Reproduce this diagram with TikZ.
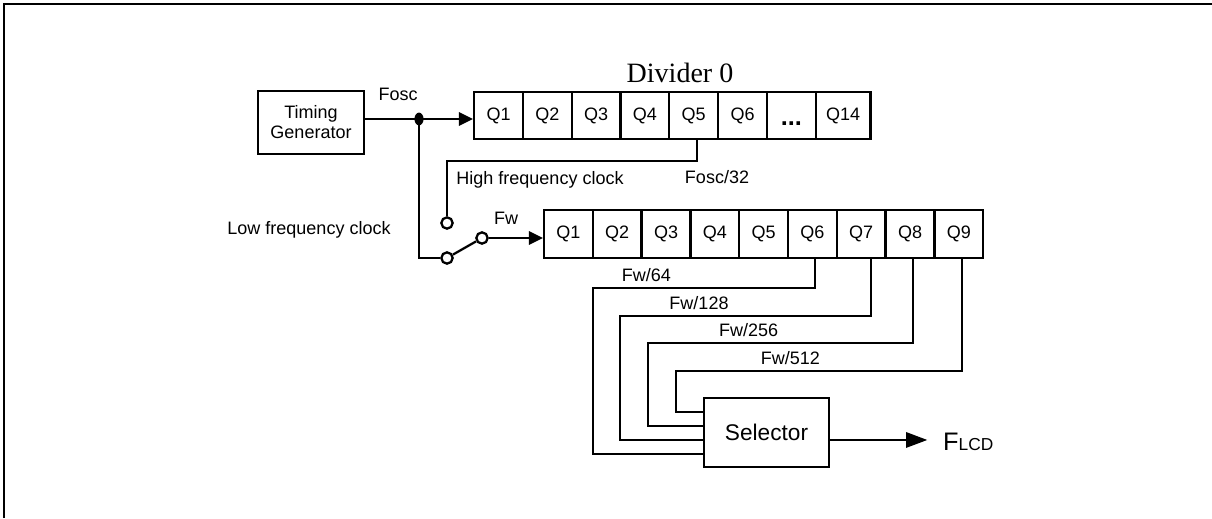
\documentclass[tikz,border=0pt]{standalone}
\usepackage{fontspec}
\setmainfont{Liberation Serif}
\setsansfont{Liberation Sans}
\usetikzlibrary{arrows.meta}
\tikzset{%
  >={Triangle[width=10pt,length=10.5pt]},
  % Specifications for style of nodes:
            base/.style = {rectangle, draw=black, line width=1.7pt,
                           text centered, font=\sffamily\fontsize{13.5}{15}\selectfont},
          genbox/.style = {base, minimum width=79.5pt, minimum height=47.25pt},
            cell/.style = {base, minimum width=36.6pt, minimum height=35.6pt},
          selbox/.style = {base, minimum width=93.75pt, minimum height=51.75pt,
                           font=\sffamily\fontsize{17}{17}\selectfont},
         contact/.style = {circle, draw=black, fill=white, line width=1.7pt,
                           minimum size=8.5pt, inner sep=0pt},
        siglabel/.style = {font=\sffamily\fontsize{13.5}{15}\selectfont, inner sep=1pt},
}

\begin{document}
\begin{tikzpicture}[x=0.75pt, y=-0.75pt, node distance=36.6pt,
    line width=1.7pt, align=center]
  \useasboundingbox (0,0) rectangle (1212,518);
  % frame
  \draw[line width=2.2pt] (4,518) -- (4,4) -- (1212,4);

  % Specification of nodes (position, etc.)
  \node (tg)        [genbox] at (311,122.5) {Timing\\Generator};
  \coordinate (fosc) at (419,119);

  \node (div0)      [font=\rmfamily\fontsize{21}{21}\selectfont] at (680,73) {Divider 0};
  \node (d0q1)      [cell] at (498.5,115.5) {Q1};
  \node (d0q2)      [cell, right of=d0q1] {Q2};
  \node (d0q3)      [cell, right of=d0q2] {Q3};
  \node (d0q4)      [cell, right of=d0q3] {Q4};
  \node (d0q5)      [cell, right of=d0q4] {Q5};
  \node (d0q6)      [cell, right of=d0q5] {Q6};
  \node (d0dots)    [cell, right of=d0q6, text height=15pt,
                     font=\sffamily\bfseries\fontsize{19}{19}\selectfont] {...};
  \node (d0q14)     [cell, right of=d0dots, xshift=2.2pt, minimum width=41pt] {Q14};

  \node (d1q1)      [cell] at (568.4,234) {Q1};
  \node (d1q2)      [cell, right of=d1q1] {Q2};
  \node (d1q3)      [cell, right of=d1q2] {Q3};
  \node (d1q4)      [cell, right of=d1q3] {Q4};
  \node (d1q5)      [cell, right of=d1q4] {Q5};
  \node (d1q6)      [cell, right of=d1q5] {Q6};
  \node (d1q7)      [cell, right of=d1q6] {Q7};
  \node (d1q8)      [cell, right of=d1q7] {Q8};
  \node (d1q9)      [cell, right of=d1q8] {Q9};

  \node (highc)     [contact] at (447,223) {};
  \node (lowc)      [contact] at (447,258) {};
  \node (swc)       [contact] at (482,238) {};

  \node (sel)       [selbox] at (766.5,432.5) {Selector};
  \node (flcd)      [anchor=base west, inner sep=0pt, font=\sffamily] at (942,450)
                    {{\fontsize{19}{19}\selectfont F}{\fontsize{13}{13}\selectfont LCD}};

  \node (fosclbl)   [siglabel] at (398,94) {Fosc};
  \node (fwlbl)     [siglabel] at (506,218) {Fw};
  \node (hflbl)     [siglabel, anchor=west] at (454,180) {High frequency clock};
  \node (lflbl)     [siglabel, anchor=west] at (225,230) {Low frequency clock};
  \node (f32lbl)    [siglabel] at (717,177) {Fosc/32};

  % connectors
  \draw             (tg.east |- fosc) -- (fosc);
  \draw[->]         (fosc) -- (fosc -| d0q1.west);
  \fill             (fosc) ellipse [x radius=3.4pt, y radius=4.8pt];
  \draw             (fosc) |- (lowc);
  \draw             (lowc) -- (swc);
  \draw[->]         (swc) -- (swc -| d1q1.west);
  \draw             (highc) -- ++(0,-62) -| ([xshift=2.3pt]d0q5.south);

  \draw             ([xshift=2pt]d1q6.south) -- ++(0,29) -- ++(-222,0)
                    node[siglabel, pos=0.76, above=3pt] {Fw/64} |- ([yshift=-16.1pt]sel.west);
  \draw             ([xshift=7.3pt]d1q7.south) -- ++(0,57) -- ++(-251,0)
                    node[siglabel, pos=0.685, above=3pt] {Fw/128} |- ([yshift=-5.6pt]sel.west);
  \draw             ([xshift=2.25pt]d1q8.south) -- ++(0,84) -- ++(-265,0)
                    node[siglabel, pos=0.62, above=3pt] {Fw/256} |- ([yshift=4.9pt]sel.west);
  \draw             ([xshift=2.4pt]d1q9.south) -- ++(0,112) -- ++(-286,0)
                    node[siglabel, pos=0.6, above=3pt] {Fw/512} |- ([yshift=15.4pt]sel.west);

  \draw[->, >={Triangle[width=11.5pt,length=16pt]}, shorten >=11pt]
                    ([yshift=-5.6pt]sel.east) -- ([yshift=-5.6pt]sel.east -| flcd.west);

\end{tikzpicture}
\end{document}
